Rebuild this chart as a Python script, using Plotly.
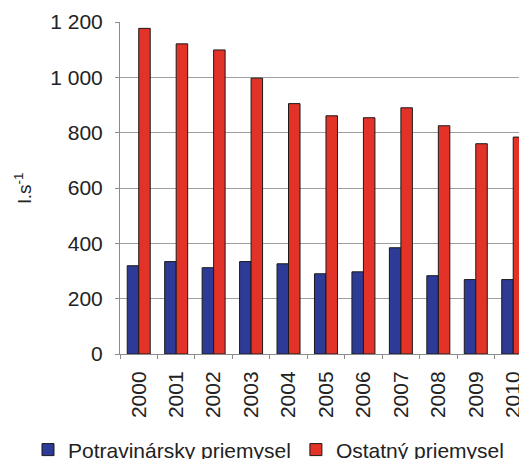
import plotly.graph_objects as go

years = ["2000", "2001", "2002", "2003", "2004", "2005", "2006", "2007", "2008", "2009", "2010"]
potravinarsky = [319, 334, 312, 334, 326, 290, 297, 384, 283, 269, 269]
ostatny = [1177, 1121, 1099, 997, 905, 861, 854, 890, 825, 760, 784]
y_tickvals = [0, 200, 400, 600, 800, 1000, 1200]
y_ticktext = ["0", "200", "400", "600", "800", "1 000", "1 200"]

FONT = "Liberation Sans, Arial, sans-serif"

fig = go.Figure()
fig.add_trace(go.Bar(
    x=years, y=potravinarsky, name="Potravinársky priemysel",
    marker=dict(color="#2E3B96", line=dict(color="#1a1a1a", width=1)),
))
fig.add_trace(go.Bar(
    x=years, y=ostatny, name="Ostatný priemysel",
    marker=dict(color="#E33228", line=dict(color="#1a1a1a", width=1)),
))

fig.update_layout(
    width=519, height=459,
    margin=dict(l=120, r=0, t=22, b=105, autoexpand=False),
    plot_bgcolor="white", paper_bgcolor="white",
    barmode="group", bargap=0.386, bargroupgap=0,
    font=dict(family=FONT, size=21, color="#222222"),
    showlegend=True,
    legend=dict(
        orientation="h", x=-0.2306, xanchor="left", y=-0.289, yanchor="middle",
        font=dict(size=21, color="#222222"), itemwidth=30,
        tracegroupgap=0, bgcolor="rgba(0,0,0,0)",
    ),
)
fig.update_xaxes(
    type="category", range=[-0.5, 10.154], automargin=False,
    showgrid=False, showline=True, linecolor="#8c8c8c", linewidth=1,
    ticks="outside", ticklen=4, tickcolor="#8c8c8c", tickson="boundaries",
    tickangle=-90, tickfont=dict(size=21, color="#222222"),
    ticklabelstandoff=8,
)
fig.update_yaxes(
    range=[0, 1200], tickvals=y_tickvals, ticktext=y_ticktext, automargin=False,
    showgrid=True, gridcolor="#a0a0a0", gridwidth=1,
    showline=True, linecolor="#8c8c8c", linewidth=1,
    ticks="outside", ticklen=4, tickcolor="#8c8c8c",
    tickfont=dict(size=21, color="#222222"),
    ticklabelstandoff=8, zeroline=False,
    title=dict(text="l.s<sup>-1</sup>", font=dict(size=19, color="#222222"), standoff=13),
)

fig.write_html(
    "out.html",
    config={"displayModeBar": False},
    post_script="document.body.style.margin='0';document.body.style.overflow='hidden';",
)
